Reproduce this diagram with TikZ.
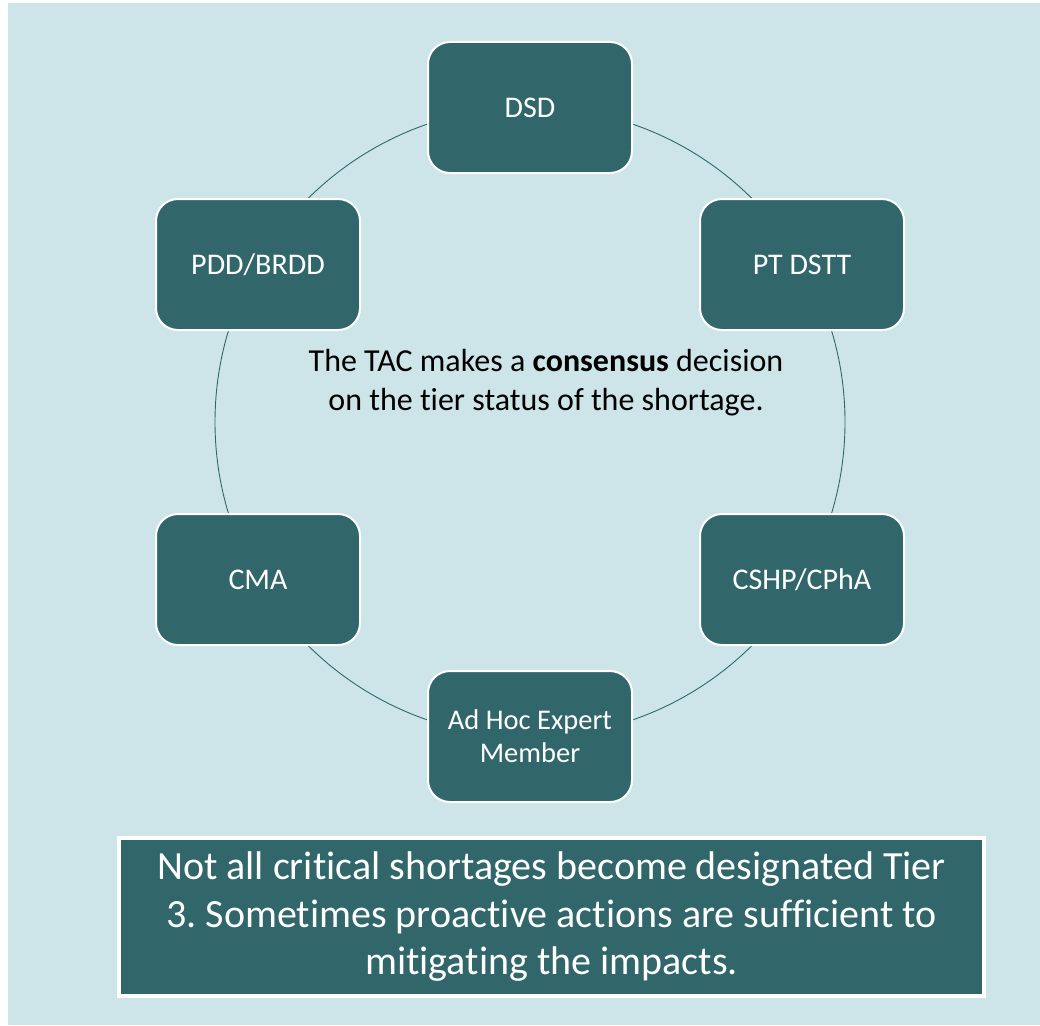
\documentclass[tikz,border=0pt]{standalone}
\usepackage{fontspec}
\setmainfont{Carlito}[Ligatures=NoCommon]
\frenchspacing
\definecolor{bgc}{HTML}{CDE5E8}
\definecolor{teal}{HTML}{31666B}
\begin{document}
\begin{tikzpicture}[x=1pt,y=-1pt,
  member/.style={rectangle, rounded corners=22pt, fill=teal, draw=white, line width=2pt,
    minimum width=204pt, minimum height=131pt, text=white, align=center,
    font=\fontsize{30}{36}\selectfont, inner sep=0pt},
  ring/.style={draw=teal, line width=0.9pt},
  notebox/.style={rectangle, fill=teal, draw=white, line width=4pt,
    minimum width=865pt, minimum height=158pt, text=white, align=center,
    font=\fontsize{40}{47.5}\selectfont, inner sep=0pt}]
\useasboundingbox (0,0) rectangle (1040,1025);
\fill[white] (0,0) rectangle (1040,1025);
\fill[bgc] (8,3) rectangle (1040,1025);
\coordinate (c) at (530,422);
\draw[ring] (c) circle[radius=315pt];
\node[member] (dsd) at (530,107.5) {DSD};
\node[member] (pt) at (802,264.5) {PT DSTT};
\node[member] (cshp) at (802,579.5) {CSHP/CPhA};
\node[member, font=\fontsize{28.5}{33}\selectfont] (adhoc) at (530,736.5) {Ad Hoc Expert\\Member};
\node[member] (cma) at (258,579.5) {CMA};
\node[member] (pdd) at (258,264.5) {PDD/BRDD};
\node[align=center, text=black, font=\fontsize{32}{39}\selectfont, inner sep=0pt] (tac) at (546,383)
  {The TAC makes a \textbf{consensus} decision\\on the tier status of the shortage.};
\node[notebox] (note) at (551.5,917)
  {Not all critical shortages become designated Tier\\3. Sometimes proactive actions are sufficient to\\mitigating the impacts.};
\end{tikzpicture}
\end{document}
